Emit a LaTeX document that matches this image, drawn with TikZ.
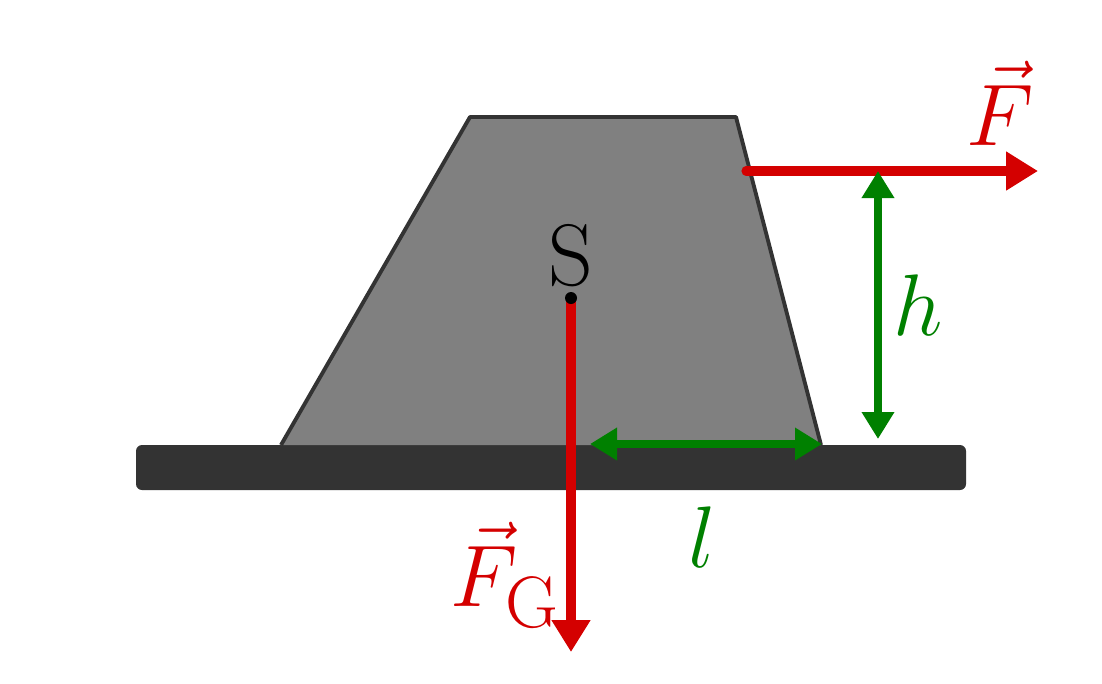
\documentclass[tikz,border=0pt]{standalone}
\usepackage{amsmath,amssymb}
\usetikzlibrary{arrows.meta}
\definecolor{forcered}{RGB}{212,0,0}
\definecolor{dimgreen}{RGB}{0,128,0}
\definecolor{darkgrey}{RGB}{51,51,51}
\tikzset{
	force/.style={forcered,line width=2.6pt,-{Triangle[length=0.32cm,width=0.37cm]}},
	dimension/.style={dimgreen,line width=2.4pt,{Triangle[length=0.27cm,width=0.31cm]}-{Triangle[length=0.27cm,width=0.31cm]}}
}

\begin{document}
\begin{tikzpicture}[font=\Huge]
				\useasboundingbox (0,0) rectangle (11.02,6.83);
				\fill[darkgrey,rounded corners=0.06cm] (1.36,1.93) rectangle (9.66,2.38);
				\coordinate (bl) at (2.81,2.38);
				\coordinate (tl) at (4.70,5.66);
				\coordinate (tr) at (7.36,5.66);
				\coordinate (br) at (8.21,2.38);
				\filldraw[fill=black!50,draw=darkgrey,line width=1.1pt,line join=round] (bl) -- (tl) -- (tr) -- (br);
				\coordinate (s) at (5.71,3.85);
				\coordinate (g) at (5.71,0.31);
				\coordinate (fa) at (7.46,5.12);
				\coordinate (fb) at (10.38,5.12);
				\coordinate (ht) at (8.78,5.12);
				\coordinate (hb) at (8.78,2.44);
				\coordinate (la) at (5.90,2.39);
				\coordinate (lb) at (8.22,2.39);
				\draw[force] (s) to (g);
				\draw[force,line cap=round] (fa) to (fb);
				\draw[dimension] (ht) to node[right]{$h$}(hb);
				\draw[dimension] (la) to (lb);
				\fill (s) circle (0.06);
				\node (slabel) at (5.71,4.27) {S};
				\node[forcered] (flabel) at (10.00,5.80) {$\vec{F}$};
				\node[forcered,anchor=east] (fglabel) at (5.73,1.08) {$\vec{F}_{\text{G}}$};
				\node[dimgreen] (llabel) at (7.02,1.46) {$l$};
			\end{tikzpicture}
\end{document}
